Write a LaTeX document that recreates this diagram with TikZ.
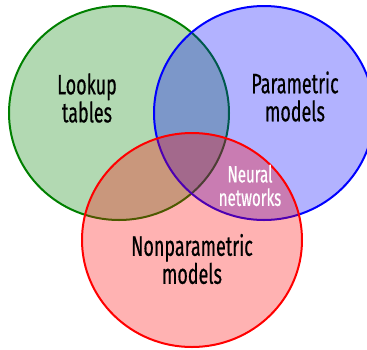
\documentclass[tikz,border=0pt]{standalone}
\usepackage{fontspec}
\setmainfont[FakeStretch=0.64,FakeBold=0.5]{Fira Sans}
\begin{document}
\begin{tikzpicture}[x=1pt,y=-1pt,
  setcirc/.style={line width=2pt, fill opacity=0.3},
  biglabel/.style={align=center, inner sep=0pt, font=\fontsize{28}{28}\selectfont, text=black},
  smalllabel/.style={align=center, inner sep=0pt, font=\fontsize{23.5}{23.5}\selectfont, text=white}]
\useasboundingbox (0,0) rectangle (367,349);
\definecolor{vgreen}{RGB}{0,128,0}
\definecolor{vblue}{RGB}{0,0,255}
\definecolor{vred}{RGB}{255,0,0}
\draw[setcirc, draw=vgreen, fill=vgreen] (119,113) ellipse [x radius=110, y radius=107];
\draw[setcirc, draw=vblue, fill=vblue] (264,113) ellipse [x radius=110, y radius=107];
\draw[setcirc, draw=vred, fill=vred] (192,240) ellipse [x radius=110, y radius=107];
\node[biglabel] (lookup) at (87,98) {Lookup\\tables};
\node[biglabel] (param) at (295,96.5) {Parametric\\models};
\node[biglabel] (nonparam) at (192,259) {Nonparametric\\models};
\node[smalllabel] (neural) at (250,185.5) {Neural\\networks};
\end{tikzpicture}
\end{document}
